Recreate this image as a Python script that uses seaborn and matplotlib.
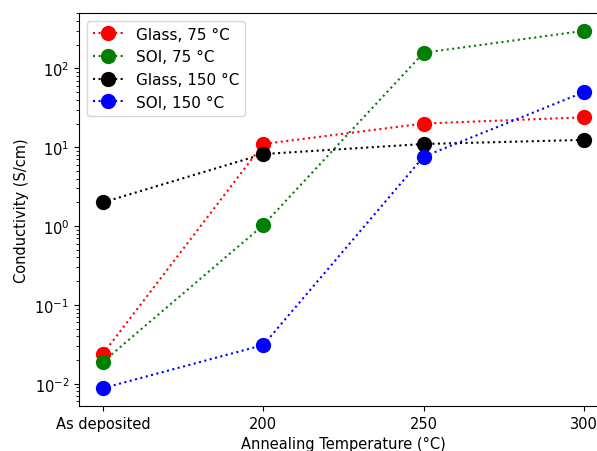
import pandas as pd
import matplotlib
matplotlib.use("Agg")
import matplotlib.pyplot as plt
import seaborn as sns

# annealing conditions on the x axis
temps = ["As deposited", "200", "250", "300"]

# conductivity (S/cm)
glass_75 = [0.024, 11, 20, 24]
soi_75 = [0.019, 1.03, 158, 300]
glass_150 = [2.0, 8.2, 11, 12.4]
soi_150 = [0.0088, 0.031, 7.6, 50]

series_names = ["Glass, 75 °C", "SOI, 75 °C", "Glass, 150 °C", "SOI, 150 °C"]
series_colors = ["red", "green", "black", "blue"]


def build_frame():
    rows = []
    for name, vals in zip(series_names, [glass_75, soi_75, glass_150, soi_150]):
        for t, v in zip(temps, vals):
            rows.append({"temp": t, "cond": v, "sample": name})
    return pd.DataFrame(rows)


def main():
    plt.rcParams["font.size"] = 10.5
    df = build_frame()
    fig = plt.figure(figsize=(5.97, 4.52), dpi=100)
    # axes runs past the right edge, as in the cropped reference
    ax = fig.add_axes([0.1323, 0.0996, 0.886, 0.8695])

    sns.lineplot(data=df, x="temp", y="cond", hue="sample",
                 palette=dict(zip(series_names, series_colors)),
                 hue_order=series_names, sort=False, marker="o",
                 markersize=11, markeredgewidth=0, linestyle=":",
                 linewidth=1.5, ax=ax)

    ax.set_yscale("log")
    ax.set_xlabel("Annealing Temperature (°C)")
    ax.set_ylabel("Conductivity (S/cm)")
    # right spine falls outside the cropped picture
    ax.spines["right"].set_visible(False)

    handles, labels = ax.get_legend_handles_labels()
    ax.legend(handles, labels, loc="upper left", fontsize=11)

    fig.savefig("out.png", dpi=100)
    plt.close(fig)


if __name__ == "__main__":
    main()
